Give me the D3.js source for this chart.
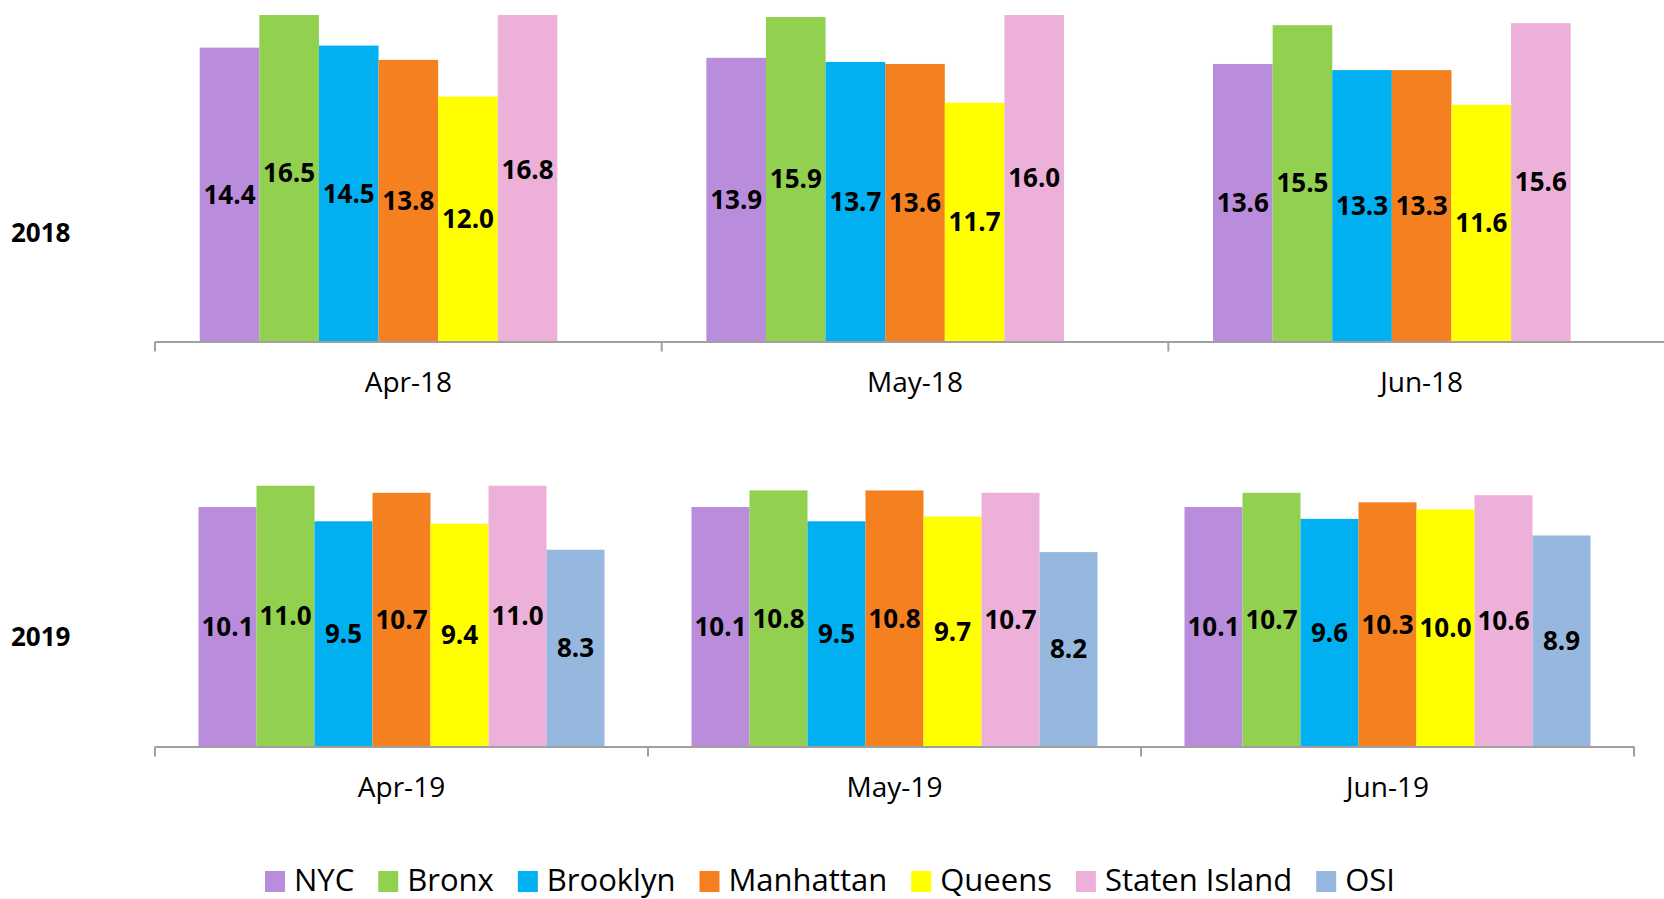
<!DOCTYPE html>
<html>
<head>
<meta charset="utf-8">
<script src="https://cdn.jsdelivr.net/npm/d3@7"></script>
<style>
  body { margin: 0; background: #fff; }
  text { font-family: "Open Sans", "Noto Sans", sans-serif; }
</style>
</head>
<body>
<div class="chart"></div>
<script>
// series + colours
const series = ['NYC', 'Bronx', 'Brooklyn', 'Manhattan', 'Queens', 'Staten Island', 'OSI'];
const colors = ['#b98cdc', '#92d050', '#00b0f0', '#f5801f', '#ffff00', '#edb1d9', '#96b8df'];

const months2018 = ['Apr-18', 'May-18', 'Jun-18'];
const months2019 = ['Apr-19', 'May-19', 'Jun-19'];

// values per month, in series order (OSI has no 2018 value)
const values2018 = [
  [14.4, 16.5, 14.5, 13.8, 12.0, 16.8, null],
  [13.9, 15.9, 13.7, 13.6, 11.7, 16.0, null],
  [13.6, 15.5, 13.3, 13.3, 11.6, 15.6, null]
];
const values2019 = [
  [10.1, 11.0, 9.5, 10.7, 9.4, 11.0, 8.3],
  [10.1, 10.8, 9.5, 10.8, 9.7, 10.7, 8.2],
  [10.1, 10.7, 9.6, 10.3, 10.0, 10.6, 8.9]
];

const W = 1664, H = 899;

let svg = d3.select('.chart').append('svg')
  .attr('width', W)
  .attr('height', H);

function panel(id, year, months, values, yMax, x0, x1, yBottom, yTop, yearY, labelY) {
  let x = d3.scaleBand().domain(months).range([x0, x1]).padding(0);
  let inner = d3.scaleBand().domain(series).range([0, x.bandwidth()])
    .paddingInner(0).paddingOuter(0.75);
  let y = d3.scaleLinear().domain([0, yMax]).range([yBottom, yTop]);

  let g = svg.append('g');

  g.append('clipPath').attr('id', id)
    .append('rect')
    .attr('x', x0).attr('y', yTop)
    .attr('width', x1 - x0).attr('height', yBottom - yTop);

  let rows = [];
  months.forEach((m, i) => {
    values[i].forEach((v, j) => {
      if (v != null) rows.push({ month: m, s: series[j], c: colors[j], v: v });
    });
  });

  g.append('g').attr('clip-path', 'url(#' + id + ')')
    .selectAll('rect')
    .data(rows)
    .join('rect')
    .attr('x', d => x(d.month) + inner(d.s))
    .attr('y', d => y(d.v))
    .attr('width', inner.bandwidth())
    .attr('height', d => yBottom - y(d.v))
    .attr('fill', d => d.c);

  // axis
  let axis = g.append('g')
    .attr('transform', 'translate(0,' + yBottom + ')')
    .call(d3.axisBottom(x).tickSize(0).tickPadding(0));
  axis.select('.domain').attr('stroke', '#a0a0a0').attr('stroke-width', 2);
  axis.selectAll('text')
    .attr('y', labelY - yBottom)
    .attr('dy', '0.35em')
    .attr('fill', '#000')
    .style('font-size', '28px');

  // ticks at category boundaries
  let bounds = months.map(m => x(m)).concat([x1]);
  g.selectAll('.bound')
    .data(bounds)
    .join('line')
    .attr('x1', d => d).attr('x2', d => d)
    .attr('y1', yBottom).attr('y2', yBottom + 10)
    .attr('stroke', '#a0a0a0')
    .attr('stroke-width', 2);

  // data labels in the middle of each bar
  g.selectAll('.lbl')
    .data(rows)
    .join('text')
    .attr('x', d => x(d.month) + inner(d.s) + inner.bandwidth() / 2)
    .attr('y', d => y(d.v / 2))
    .attr('dy', '0.35em')
    .attr('text-anchor', 'middle')
    .style('font-size', '26px')
    .style('font-weight', 'bold')
    .text(d => d.v.toFixed(1));

  g.append('text')
    .attr('x', 11)
    .attr('y', yearY)
    .attr('dy', '0.35em')
    .style('font-size', '26px')
    .style('font-weight', 'bold')
    .text(year);
}

panel('clip18', '2018', months2018, values2018, 16, 155, 1675, 341.5, 15, 233, 382);
panel('clip19', '2019', months2019, values2019, 12, 155, 1634, 746.5, 462, 637, 787);

// legend
let legend = svg.append('g');
let lx = 0;
const gap = 24;
series.forEach((s, i) => {
  let item = legend.append('g').attr('transform', 'translate(' + lx + ',0)');
  item.append('rect')
    .attr('x', 0).attr('y', 871)
    .attr('width', 20).attr('height', 21)
    .attr('fill', colors[i]);
  let t = item.append('text')
    .attr('x', 29).attr('y', 891)
    .style('font-size', '31px')
    .text(s);
  lx += 29 + t.node().getComputedTextLength() + gap;
});
let legendW = lx - gap;
legend.attr('transform', 'translate(' + (830 - legendW / 2) + ',0)');
</script>
</body>
</html>
